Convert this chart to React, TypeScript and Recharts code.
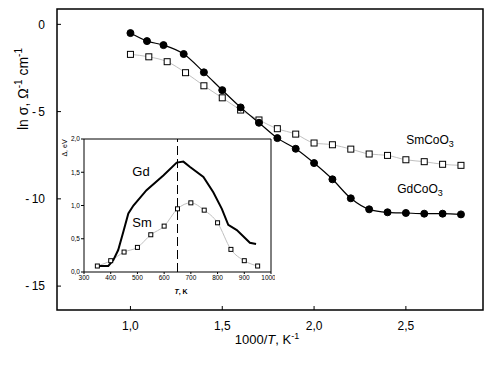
import React from "react"
import { LineChart, Line, XAxis, YAxis, ReferenceArea, ReferenceLine } from "recharts"

// main plot: ln(sigma) vs 1000/T
const gdInvT = [1.0, 1.09, 1.18, 1.29, 1.4, 1.5, 1.6, 1.7, 1.8, 1.9, 2.0, 2.1, 2.2, 2.3, 2.4, 2.5, 2.6, 2.7, 2.8]
const gdLnSigma = [-0.5, -0.96, -1.19, -1.7, -2.75, -3.77, -4.76, -5.64, -6.52, -7.13, -7.95, -8.88, -9.97, -10.6, -10.77, -10.81, -10.85, -10.85, -10.89]
const smInvT = [1.0, 1.1, 1.2, 1.3, 1.4, 1.5, 1.6, 1.7, 1.8, 1.9, 2.0, 2.1, 2.2, 2.3, 2.4, 2.5, 2.6, 2.7, 2.8]
const smLnSigma = [-1.72, -1.86, -2.14, -2.77, -3.52, -4.21, -4.91, -5.48, -5.98, -6.29, -6.8, -6.9, -7.15, -7.43, -7.51, -7.76, -7.87, -8.02, -8.08]
const mainXTicks = [1.0, 1.5, 2.0, 2.5]
const mainYTicks = [0, -5, -10, -15]

// inset: activation energy vs T
const insetGdT = [347, 391, 410, 428, 447, 466, 485, 534, 597, 647, 672, 697, 747, 784, 816, 840, 872, 921, 944]
const insetGdDelta = [0.09, 0.09, 0.18, 0.33, 0.6, 0.88, 1.0, 1.23, 1.45, 1.645, 1.66, 1.58, 1.43, 1.2, 0.95, 0.71, 0.63, 0.44, 0.42]
const insetSmT = [350, 400, 450, 500, 550, 600, 650, 700, 750, 800, 850, 900, 950]
const insetSmDelta = [0.09, 0.17, 0.3, 0.37, 0.56, 0.69, 0.95, 1.04, 0.93, 0.74, 0.34, 0.17, 0.09]
const insetXTicks = [300, 400, 500, 600, 700, 800, 900, 1000]
const insetYTicks = [0, 0.5, 1.0, 1.5, 2.0]
const transitionT = 650

const zip = (xs: number[], ys: number[]) => xs.map((x, i) => ({ x, y: ys[i] }))
const gdData = zip(gdInvT, gdLnSigma)
const smData = zip(smInvT, smLnSigma)
const insetGd = zip(insetGdT, insetGdDelta)
const insetSm = zip(insetSmT, insetSmDelta)

const FONT = "'Liberation Sans', Arial, sans-serif"
const comma = (v: number) => v.toFixed(1).replace(".", ",")
const signed = (v: number) => (v < 0 ? `-\u2009${Math.abs(v)}` : `${v}`)

const square = (size: number) => (p: any) => (
  <rect
    key={`sq-${p.index}`}
    x={p.cx - size / 2}
    y={p.cy - size / 2}
    width={size}
    height={size}
    fill="#fff"
    stroke="#000"
    strokeWidth={1}
  />
)

const Overlay = () => (
  <svg width={494} height={370} style={{ position: "absolute", left: 0, top: 0, pointerEvents: "none" }} fontFamily={FONT}>
    <text x={24} y={89} fontSize={14} textAnchor="middle" dominantBaseline="middle" transform="rotate(-90 24 89)">
      ln σ, Ω<tspan dy={-5} fontSize={10}>-1</tspan>
      <tspan dy={5}> cm</tspan>
      <tspan dy={-5} fontSize={10}>-1</tspan>
    </text>
    <text x={267} y={344} fontSize={13} textAnchor="middle">
      1000/<tspan fontStyle="italic">T</tspan>, K<tspan dy={-5} fontSize={9}>-1</tspan>
    </text>
    <text x={430} y={144} fontSize={12} textAnchor="middle">
      SmCoO<tspan dy={3} fontSize={9}>3</tspan>
    </text>
    <text x={420} y={193} fontSize={12} textAnchor="middle">
      GdCoO<tspan dy={3} fontSize={9}>3</tspan>
    </text>
    <text x={141} y={176} fontSize={13} textAnchor="middle">Gd</text>
    <text x={142} y={227} fontSize={13} textAnchor="middle">Sm</text>
    <text x={65} y={148} fontSize={7} textAnchor="middle" dominantBaseline="middle" transform="rotate(-90 65 148)">
      Δ, eV
    </text>
    <text x={181} y={294} fontSize={7} textAnchor="middle" fontWeight="bold">
      <tspan fontStyle="italic">T</tspan>, K
    </text>
  </svg>
)

export default function App() {
  return (
    <div style={{ position: "absolute", left: 0, top: 0, width: 494, height: 370, background: "#fff", fontFamily: FONT }}>
      <LineChart width={494} height={370} margin={{ top: 9, right: 11, bottom: 0, left: 0 }}>
        <XAxis
          type="number"
          dataKey="x"
          domain={[0.6, 2.92]}
          ticks={mainXTicks}
          allowDataOverflow
          height={60}
          axisLine={false}
          tickSize={-4}
          tickMargin={15}
          tickFormatter={comma}
          tick={{ fill: "#000", fontSize: 12 }}
          stroke="#000"
        />
        <YAxis
          type="number"
          domain={[-16.37, 0.88]}
          ticks={mainYTicks}
          allowDataOverflow
          width={57}
          axisLine={false}
          tickSize={-4}
          tickMargin={16}
          tickFormatter={signed}
          tick={{ fill: "#000", fontSize: 12 }}
          stroke="#000"
        />
        <ReferenceArea x1={0.6} x2={2.92} y1={-16.37} y2={0.88} fill="none" stroke="#000" strokeWidth={1.5} ifOverflow="visible" />
        <Line
          data={smData}
          dataKey="y"
          type="monotone"
          stroke="#c0c0c0"
          strokeWidth={1}
          dot={square(6)}
          isAnimationActive={false}
        />
        <Line
          data={gdData}
          dataKey="y"
          type="monotone"
          stroke="#000"
          strokeWidth={1.2}
          dot={{ r: 3.5, fill: "#000", stroke: "#000", strokeWidth: 1 }}
          isAnimationActive={false}
        />
      </LineChart>

      <div style={{ position: "absolute", left: 40, top: 130 }}>
        <LineChart width={235} height={170} margin={{ top: 9, right: 4, bottom: 0, left: 0 }}>
          <XAxis
            type="number"
            dataKey="x"
            domain={[300, 1000]}
            ticks={insetXTicks}
            height={28}
            axisLine={false}
            tickSize={2}
            tickMargin={1}
            tick={{ fill: "#000", fontSize: 6.5 }}
            stroke="#000"
          />
          <YAxis
            type="number"
            domain={[0, 2]}
            ticks={insetYTicks}
            width={44}
            axisLine={false}
            tickSize={3}
            tickMargin={1}
            tickFormatter={comma}
            tick={{ fill: "#000", fontSize: 6.5 }}
            stroke="#000"
          />
          <ReferenceArea x1={300} x2={1000} y1={0} y2={2} fill="none" stroke="#000" strokeWidth={1} ifOverflow="visible" />
          <ReferenceLine x={transitionT} stroke="#000" strokeWidth={1} strokeDasharray="9 4" />
          <Line
            data={insetSm}
            dataKey="y"
            type="monotone"
            stroke="#c0c0c0"
            strokeWidth={1}
            dot={square(4)}
            isAnimationActive={false}
          />
          <Line
            data={insetGd}
            dataKey="y"
            type="linear"
            stroke="#000"
            strokeWidth={2}
            dot={false}
            isAnimationActive={false}
          />
        </LineChart>
      </div>
      <Overlay />
    </div>
  )
}
